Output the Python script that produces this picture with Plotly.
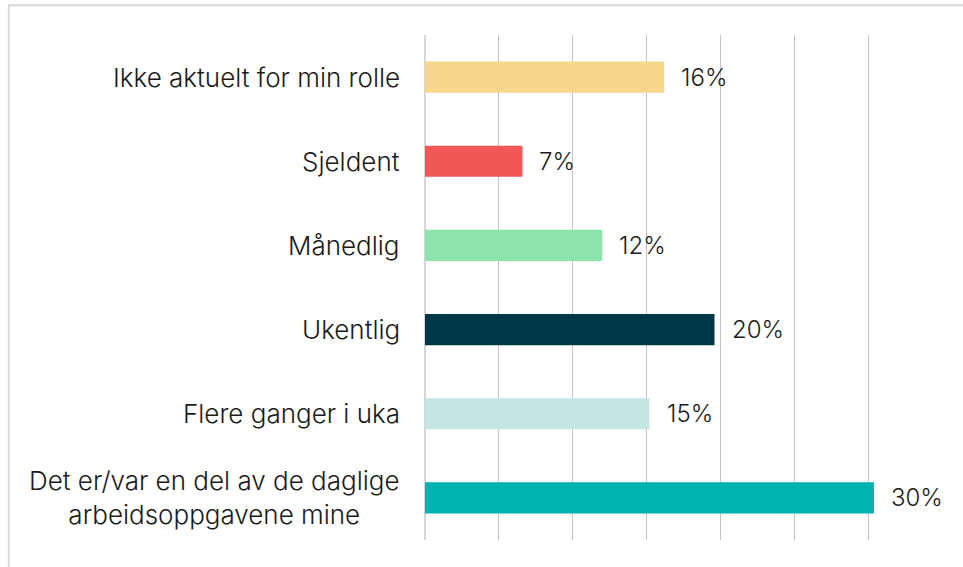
import plotly.graph_objects as go

categories = [
    "Ikke aktuelt for min rolle",
    "Sjeldent",
    "Månedlig",
    "Ukentlig",
    "Flere ganger i uka",
    "Det er/var en del av de daglige<br>arbeidsoppgavene mine",
]
values = [0.162, 0.066, 0.120, 0.196, 0.152, 0.304]
value_labels = ["16%", "7%", "12%", "20%", "15%", "30%"]
colors = ["#F6D58C", "#F25757", "#8CE4AC", "#003746", "#C5E5E5", "#00B2B0"]
x_ticks = [0, 0.05, 0.10, 0.15, 0.20, 0.25, 0.30, 0.35]

FONT = "Inter, Roboto, sans-serif"

fig = go.Figure()
fig.add_trace(go.Bar(
    x=values,
    y=categories,
    orientation="h",
    marker=dict(color=colors, line=dict(width=0)),
    hoverinfo="skip",
))

annotations = []
for c, v, t in zip(categories, values, value_labels):
    annotations.append(dict(
        x=v, y=c, xref="x", yref="y", text=t, showarrow=False,
        xanchor="left", yanchor="middle", xshift=15,
        font=dict(family=FONT, size=24, color="#1a1a1a", weight=300),
    ))
    annotations.append(dict(
        x=0, y=c, xref="paper", yref="y", text=c, showarrow=False,
        xanchor="right", yanchor="middle", xshift=-23, align="center",
        font=dict(family=FONT, size=26, color="#1a1a1a", weight=300),
    ))

fig.update_layout(
    width=963,
    height=567,
    margin=dict(l=425, r=21, t=35, b=27),
    paper_bgcolor="white",
    plot_bgcolor="white",
    showlegend=False,
    bargap=0.63,
    annotations=annotations,
    shapes=[dict(
        type="rect", xref="paper", yref="paper",
        x0=-0.805, x1=1.2, y0=-0.2, y1=1.059,
        line=dict(color="#d9d9d9", width=2), layer="below",
    )],
    xaxis=dict(
        range=[0, 0.35],
        tickvals=x_ticks,
        showticklabels=False,
        showgrid=True,
        gridcolor="#c4c4c4",
        gridwidth=1,
        zeroline=True,
        zerolinecolor="#d6d6d6",
        zerolinewidth=2,
        showline=False,
        ticks="",
        fixedrange=True,
    ),
    yaxis=dict(
        autorange="reversed",
        showticklabels=False,
        showgrid=False,
        showline=False,
        ticks="",
        fixedrange=True,
    ),
)

fig.write_html(
    "out.html",
    config={"displayModeBar": False},
    post_script="document.body.style.margin='0';",
)
